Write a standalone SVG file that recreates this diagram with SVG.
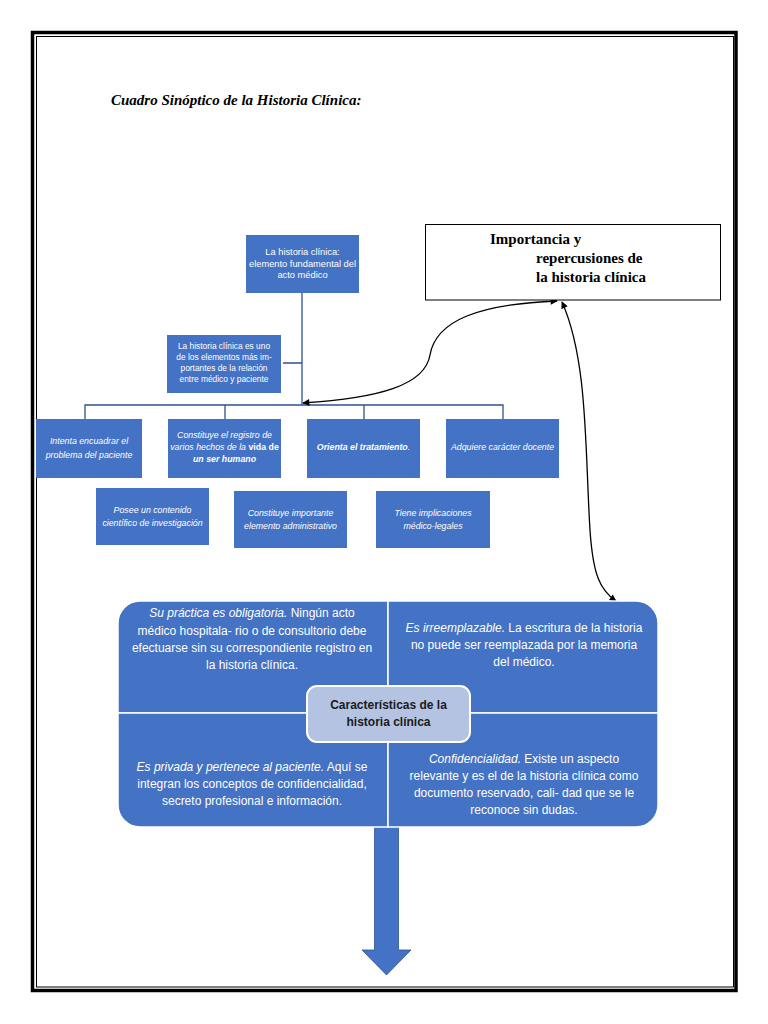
<svg xmlns="http://www.w3.org/2000/svg" width="768" height="1024" viewBox="0 0 768 1024">
<style>
.bx{fill:#4472C4;}
.t{font-family:"Liberation Sans",Arial,sans-serif;fill:#fff;text-anchor:middle;}
.s{font-size:9.3px;}
.m{font-size:8.4px;}
.r{font-size:8.8px;font-style:italic;}
.q{font-size:12px;}
.tree{stroke:#2F528F;stroke-width:1.3;fill:none;}
.cur{stroke:#000;stroke-width:1.3;fill:none;}
.imp{font-family:"Liberation Serif","Times New Roman",serif;font-weight:bold;font-size:15px;fill:#000;}
</style>
<defs>
<marker id="ah" viewBox="0 0 10 10" refX="9" refY="5" markerWidth="8" markerHeight="7" markerUnits="userSpaceOnUse" orient="auto-start-reverse">
<path d="M0,0 L10,5 L0,10 Z" fill="#000"/>
</marker>
</defs>
<rect x="0" y="0" width="768" height="1024" fill="#fff"/>
<g id="frame" fill="none">
<rect x="32.5" y="32.5" width="703.5" height="958" stroke="#000" stroke-width="3.5"/>
<rect x="36.5" y="36.5" width="697" height="950.5" stroke="#000" stroke-width="1"/>
</g>
<g id="title">
<text x="111" y="105" font-family="'Liberation Serif','Times New Roman',serif" font-weight="bold" font-style="italic" font-size="15">Cuadro Sinóptico de la Historia Clínica:</text>
</g>
<g id="connectors">
<path class="tree" d="M302,293 V405 M283,363 H302 M85,419 V405 H503 V419 M225,405 V419 M364,405 V419"/>
<path class="cur" d="M303,403 C380,398 425,385 430,355 C436,320 480,304 557,301" marker-start="url(#ah)" marker-end="url(#ah)"/>
<path class="cur" d="M562,302 C588,360 585,450 590,530 C593,575 600,590 616,601" marker-start="url(#ah)" marker-end="url(#ah)"/>
</g>
<g id="importancia">
<rect x="425.5" y="224.5" width="295" height="75.5" fill="#fff" stroke="#000" stroke-width="1"/>
<text class="imp" x="490" y="244">Importancia y</text>
<text class="imp" x="536" y="263">repercusiones de</text>
<text class="imp" x="536" y="282">la historia clínica</text>
</g>
<g id="n-root">
<rect class="bx" x="246" y="235" width="113" height="58"/>
<text class="t s" x="302.5" y="255">La historia clínica:</text>
<text class="t s" x="302.5" y="266.5">elemento fundamental del</text>
<text class="t s" x="302.5" y="278">acto médico</text>
</g>
<g id="n-elementos">
<rect class="bx" x="167" y="335" width="114" height="58"/>
<text class="t m" x="224" y="349">La historia clínica es uno</text>
<text class="t m" x="224" y="360">de los elementos más im-</text>
<text class="t m" x="224" y="371">portantes de la relación</text>
<text class="t m" x="224" y="382">entre médico y paciente</text>
</g>
<g id="n-encuadrar">
<rect class="bx" x="36" y="419" width="106" height="59"/>
<text class="t r" x="89" y="444">Intenta encuadrar el</text>
<text class="t r" x="89" y="458">problema del paciente</text>
</g>
<g id="n-registro">
<rect class="bx" x="168" y="419" width="113" height="59"/>
<text class="t r" x="224.5" y="438">Constituye el registro de</text>
<text class="t r" x="224.5" y="450">varios hechos de la <tspan font-style="normal" font-weight="bold">vida de</tspan></text>
<text class="t r" x="224.5" y="462" font-style="normal" font-weight="bold">un ser humano</text>
</g>
<g id="n-orienta">
<rect class="bx" x="307" y="419" width="113" height="59"/>
<text class="t r" x="363.5" y="450" font-weight="bold">Orienta el tratamiento<tspan font-weight="normal">.</tspan></text>
</g>
<g id="n-docente">
<rect class="bx" x="446" y="419" width="113" height="59"/>
<text class="t r" x="502.5" y="450">Adquiere carácter docente</text>
</g>
<g id="n-cientifico">
<rect class="bx" x="96" y="488" width="113" height="57"/>
<text class="t r" x="152.5" y="513">Posee un contenido</text>
<text class="t r" x="152.5" y="526">científico de investigación</text>
</g>
<g id="n-administrativo">
<rect class="bx" x="234" y="491" width="113" height="57"/>
<text class="t r" x="290.5" y="516">Constituye importante</text>
<text class="t r" x="290.5" y="529">elemento administrativo</text>
</g>
<g id="n-legales">
<rect class="bx" x="376" y="491" width="114" height="57"/>
<text class="t r" x="433" y="516">Tiene implicaciones</text>
<text class="t r" x="433" y="529">médico-legales</text>
</g>
<g id="arrow-down">
<path d="M374.5,826 H398.5 V950 H411 L386.5,975 L362,950 H374.5 Z" fill="#4472C4" stroke="#2F528F" stroke-width="0.8"/>
</g>
<g id="q-obligatoria">
<path class="bx" d="M118,713 V623 A22,22 0 0 1 140,601 H388 V713 Z" stroke="#fff" stroke-width="1.5"/>
<text class="t q" x="252" y="617"><tspan font-style="italic">Su práctica es obligatoria.</tspan> Ningún acto</text>
<text class="t q" x="252" y="635">médico hospitala- rio o de consultorio debe</text>
<text class="t q" x="252" y="652">efectuarse sin su correspondiente registro en</text>
<text class="t q" x="252" y="669">la historia clínica.</text>
</g>
<g id="q-irreemplazable">
<path class="bx" d="M388,601 H636 A22,22 0 0 1 658,623 V713 H388 Z" stroke="#fff" stroke-width="1.5"/>
<text class="t q" x="524" y="632"><tspan font-style="italic">Es irreemplazable.</tspan> La escritura de la historia</text>
<text class="t q" x="524" y="649">no puede ser reemplazada por la memoria</text>
<text class="t q" x="524" y="666">del médico.</text>
</g>
<g id="q-privada">
<path class="bx" d="M118,713 H388 V827 H140 A22,22 0 0 1 118,805 Z" stroke="#fff" stroke-width="1.5"/>
<text class="t q" x="252" y="771"><tspan font-style="italic">Es privada y pertenece al paciente.</tspan> Aquí se</text>
<text class="t q" x="252" y="788">integran los conceptos de confidencialidad,</text>
<text class="t q" x="252" y="805">secreto profesional e información.</text>
</g>
<g id="q-confidencialidad">
<path class="bx" d="M388,713 H658 V805 A22,22 0 0 1 636,827 H388 Z" stroke="#fff" stroke-width="1.5"/>
<text class="t q" x="524" y="763"><tspan font-style="italic">Confidencialidad.</tspan> Existe un aspecto</text>
<text class="t q" x="524" y="780">relevante y es el de la historia clínica como</text>
<text class="t q" x="524" y="797">documento reservado, cali- dad que se le</text>
<text class="t q" x="524" y="814">reconoce sin dudas.</text>
</g>
<g id="n-caracteristicas">
<rect x="307" y="686" width="163" height="56" rx="10" fill="#B4C3E2" stroke="#fff" stroke-width="2"/>
<text x="388.5" y="709" font-family="'Liberation Sans',Arial,sans-serif" font-weight="bold" font-size="12" fill="#1a1a1a" text-anchor="middle">Características de la</text>
<text x="388.5" y="726" font-family="'Liberation Sans',Arial,sans-serif" font-weight="bold" font-size="12" fill="#1a1a1a" text-anchor="middle">historia clínica</text>
</g>
</svg>
